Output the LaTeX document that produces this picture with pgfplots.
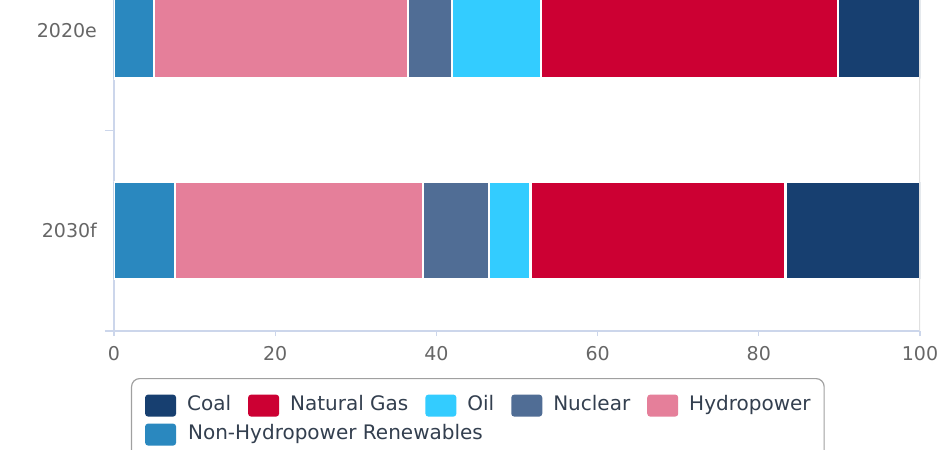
\documentclass[border=0pt]{standalone}
\usepackage{pgfplots}
\pgfplotsset{compat=1.18}
\usepackage{fontspec}
\setmainfont{DejaVu Sans}
\definecolor{coal}{HTML}{173F70}
\definecolor{gas}{HTML}{CC0033}
\definecolor{oil}{HTML}{33CCFF}
\definecolor{nuclear}{HTML}{506D95}
\definecolor{hydro}{HTML}{E57F9A}
\definecolor{nhr}{HTML}{2A88BF}
\definecolor{axisline}{HTML}{CCD6EB}
\definecolor{gridc}{HTML}{E0E0E0}
\definecolor{ticklab}{HTML}{666666}
\definecolor{legtext}{HTML}{333F4F}
\definecolor{legborder}{HTML}{A0A0A0}
\begin{document}
\begin{tikzpicture}
\begin{axis}[
  at={(0pt,0pt)}, anchor=south west,
  scale only axis, width=403pt, height=165.5pt,
  xbar stacked, bar width=48.5pt,
  xmin=0, xmax=100, ymin=-0.5, ymax=1.15,
  xtick=\empty,
  extra x ticks={0,20,...,100},
  extra x tick style={major tick length=2.5pt, tick style={draw=axisline, line width=0.6pt}},
  ytick={-0.5,0.5}, yticklabels={},
  ytick style={draw=axisline, line width=0.6pt},
  extra y ticks={0,1}, extra y tick labels={2030f,2020e},
  extra y tick style={major tick length=0pt, tick style={draw=none}},
  major tick length=4.5pt, tick align=outside,
  axis x line*=bottom, axis y line*=left,
  axis line style={-, draw=axisline, line width=0.6pt},
  /pgf/number format/assume math mode=true,
  ticklabel style={font=\fontsize{9.5}{11}\selectfont, text=ticklab},
  yticklabel style={xshift=-5pt},
  xticklabel style={yshift=-1.5pt},
  legend columns=5, reverse legend,
  legend image code/.code={\fill[#1, draw=none, rounded corners=1.5pt] (0pt,-5.5pt) rectangle (15.5pt,5.5pt);},
  legend style={at={(0,0)}, anchor=north west, xshift=8.5pt, yshift=-23.5pt,
    draw=legborder, rounded corners=4pt, line width=0.6pt,
    inner xsep=6.75pt, inner ysep=8pt,
    font=\fontsize{10}{12}\selectfont, text=legtext,
    /tikz/every odd column/.style={column sep=5.5pt},
    /tikz/every even column/.style={column sep=8.5pt},
    nodes={inner sep=0pt, anchor=west, text height=7.5pt, text depth=2.5pt},
    row sep=3.5pt},
]
\draw[gridc, line width=0.6pt] (rel axis cs:1,0) -- (rel axis cs:1,1);
\addplot[fill=nhr, draw=white, line width=1.2pt] coordinates {(7.55,0) (4.93,1)};
\addlegendentry{\makebox[0pt][l]{Non-Hydropower Renewables}}
\addplot[fill=hydro, draw=white, line width=1.2pt] coordinates {(30.82,0) (31.57,1)};
\addlegendentry{Hydropower}
\addplot[fill=nuclear, draw=white, line width=1.2pt] coordinates {(8.12,0) (5.4,1)};
\addlegendentry{Nuclear}
\addplot[fill=oil, draw=white, line width=1.2pt] coordinates {(5.18,0) (11.1,1)};
\addlegendentry{Oil}
\addplot[fill=gas, draw=white, line width=1.2pt] coordinates {(31.63,0) (36.86,1)};
\addlegendentry{Natural Gas}
\addplot[fill=coal, draw=white, line width=1.2pt] coordinates {(16.7,0) (10.14,1)};
\addlegendentry{Coal}
\end{axis}
\pgfresetboundingbox
\path[use as bounding box] (-57pt,-59.5pt) rectangle (418pt,165.5pt);
\end{tikzpicture}
\end{document}
